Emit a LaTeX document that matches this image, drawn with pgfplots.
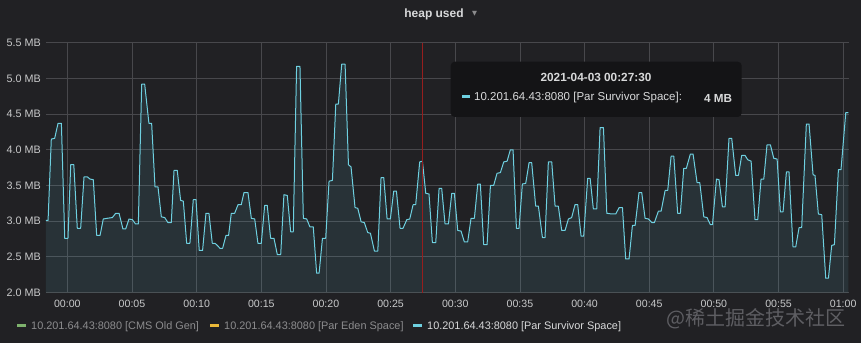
\documentclass[border=0pt]{standalone}
\usepackage{pgfplots}
\usepackage{pgfplotstable}
\pgfplotsset{compat=1.18}
\usepackage{fontspec}
\setmainfont{Liberation Sans}
\newfontfamily\cjk{Noto Sans CJK SC}
\newfontfamily\sym{DejaVu Sans}
\definecolor{bg}{RGB}{33,33,36}
\definecolor{tipbg}{RGB}{20,20,22}
\definecolor{gridc}{RGB}{72,72,76}
\definecolor{linec}{RGB}{110,208,224}
\definecolor{tickc}{RGB}{200,201,202}
\definecolor{titlec}{RGB}{216,217,218}
\definecolor{dimc}{RGB}{140,140,142}
\definecolor{greenc}{RGB}{126,178,109}
\definecolor{yellowc}{RGB}{234,184,57}
\definecolor{redc}{RGB}{150,30,30}
\definecolor{wmc}{RGB}{105,105,110}

\pgfplotstableread{
t v
-1.67 3.01
-1.49 3.01
-1.24 4.15
-0.98 4.16
-0.72 4.37
-0.46 4.37
-0.20 2.76
0.05 2.76
0.26 3.79
0.50 3.79
0.77 2.90
1.03 2.90
1.29 3.62
1.55 3.62
1.75 3.59
2.01 3.58
2.27 2.80
2.53 2.80
2.78 3.03
3.09 3.04
3.48 3.05
3.74 3.11
4.00 3.11
4.30 2.89
4.51 2.89
4.77 3.03
5.03 3.02
5.28 2.96
5.49 2.96
5.75 4.92
5.98 4.92
6.31 4.37
6.52 4.37
6.78 3.48
7.01 3.48
7.27 3.06
7.53 3.05
7.78 2.98
8.04 2.98
8.25 3.71
8.50 3.71
8.76 3.29
8.97 3.28
9.23 2.69
9.48 2.69
9.74 3.30
9.95 3.30
10.20 2.59
10.46 2.59
10.72 3.11
10.95 3.11
11.21 2.69
11.42 2.69
11.65 2.65
11.80 2.62
12.01 2.62
12.27 2.80
12.47 2.80
12.68 3.11
12.94 3.11
13.20 3.23
13.45 3.23
13.66 3.40
13.97 3.40
14.23 3.04
14.49 3.03
14.74 2.69
15.00 2.69
15.26 3.22
15.46 3.22
15.72 2.76
15.98 2.76
16.24 2.53
16.50 2.53
16.75 3.37
17.01 3.36
17.27 2.85
17.47 2.85
17.73 5.17
17.99 5.17
18.25 3.04
18.51 3.03
18.76 2.92
19.02 2.92
19.28 2.27
19.47 2.27
19.73 2.76
19.98 2.76
20.24 3.56
20.50 3.57
20.76 4.64
20.96 4.64
21.22 5.20
21.48 5.20
21.74 3.79
21.94 3.76
22.25 3.19
22.46 3.18
22.72 2.99
22.97 2.98
23.23 2.84
23.44 2.83
23.75 2.58
24.01 2.58
24.26 3.61
24.47 3.61
24.73 3.03
24.98 3.03
25.24 3.42
25.45 3.42
25.73 2.90
25.96 2.90
26.25 3.02
26.48 3.03
26.74 3.23
26.94 3.23
27.25 3.83
27.46 3.84
27.72 3.39
27.97 3.38
28.23 2.70
28.49 2.70
28.75 3.46
28.95 3.46
29.21 2.96
29.47 2.96
29.73 3.39
29.93 3.39
30.19 2.87
30.45 2.86
30.70 2.71
30.96 2.71
31.22 3.04
31.48 3.04
31.74 3.52
31.94 3.52
32.20 2.67
32.46 2.67
32.72 3.50
32.97 3.50
33.23 3.67
33.49 3.68
33.75 3.83
34.01 3.84
34.26 4.00
34.47 4.00
34.73 2.90
34.93 2.90
35.19 3.52
35.45 3.53
35.71 3.82
35.91 3.82
36.22 3.21
36.43 3.21
36.74 2.77
36.94 2.77
37.20 3.83
37.46 3.83
37.72 3.21
37.97 3.21
38.23 2.87
38.49 2.87
38.75 3.03
39.00 3.05
39.26 3.23
39.47 3.23
39.73 2.79
39.93 2.79
40.24 3.60
40.43 3.60
40.68 3.17
40.94 3.17
41.20 4.31
41.46 4.31
41.72 3.11
42.10 3.10
42.41 3.10
42.67 3.19
42.93 3.19
43.18 2.47
43.44 2.47
43.70 2.94
43.91 2.94
44.21 3.40
44.42 3.40
44.68 3.04
44.94 3.03
45.20 2.98
45.40 2.98
45.71 3.14
45.92 3.14
46.23 3.43
46.43 3.43
46.69 3.91
46.90 3.91
47.20 3.11
47.41 3.11
47.67 3.74
47.87 3.74
48.18 3.94
48.39 3.94
48.70 3.54
48.91 3.54
49.22 3.06
49.47 3.05
49.73 2.95
49.89 2.95
50.20 3.59
50.40 3.58
50.66 3.20
50.87 3.20
51.17 4.16
51.38 4.16
51.69 3.64
51.90 3.64
52.15 3.92
52.41 3.92
52.62 3.86
52.88 3.84
53.18 3.02
53.39 3.02
53.65 3.59
53.86 3.59
54.11 4.07
54.37 4.07
54.63 3.88
54.89 3.87
55.14 3.13
55.35 3.13
55.61 3.69
55.81 3.69
56.12 2.64
56.33 2.64
56.59 2.91
56.79 2.91
57.15 4.36
57.36 4.36
57.67 3.65
57.82 3.64
58.08 3.10
58.34 3.09
58.65 2.20
58.86 2.20
59.11 2.66
59.32 2.67
59.63 3.72
59.83 3.72
60.20 4.52
60.40 4.52
}\heapdata

\begin{document}
\begin{tikzpicture}[x=1pt,y=1pt]
\fill[bg] (0,0) rectangle (861,343);
\useasboundingbox (0,0) rectangle (861,343);
\begin{axis}[
  at={(46pt,50.5pt)}, anchor=south west,
  scale only axis, width=803pt, height=249.8pt,
  xmin=-1.65, xmax=60.45, ymin=2, ymax=5.5,
  axis line style={draw=none},
  tick style={draw=none},
  xtick={0,5,...,60},
  xticklabels={00:00,00:05,00:10,00:15,00:20,00:25,00:30,00:35,00:40,00:45,00:50,00:55,01:00},
  ytick={2,2.5,3,3.5,4,4.5,5,5.5},
  yticklabels={2.0 MB,2.5 MB,3.0 MB,3.5 MB,4.0 MB,4.5 MB,5.0 MB,5.5 MB},
  xmajorgrids, ymajorgrids,
  major grid style={draw=gridc, line width=0.8pt},
  xticklabel style={font=\fontsize{10.6}{12}\selectfont, text=tickc, anchor=center, yshift=-11.5pt, inner sep=0pt},
  yticklabel style={font=\fontsize{10.8}{12}\selectfont, text=tickc, anchor=east, xshift=-5pt, inner sep=0pt},
  clip=true,
]
\addplot[draw=none, fill=linec, fill opacity=0.1] table[x=t,y=v] {\heapdata} \closedcycle;
\addplot[color=linec, line width=1pt, line join=round] table[x=t,y=v] {\heapdata};
\addplot[color=redc, line width=1.1pt] coordinates {(27.5,2) (27.5,5.5)};
\end{axis}
% title
\node[anchor=center, text=titlec, font=\fontsize{12}{14}\selectfont\bfseries] at (434,329) {heap used};
\node[anchor=center, text=dimc, font=\fontsize{6.5}{8}\selectfont] at (474.5,329) {\sym ▼};
% tooltip
\fill[tipbg, rounded corners=4pt] (450.7,226) rectangle (741.7,281.3);
\node[anchor=center, text=titlec, font=\fontsize{11.8}{14}\selectfont\bfseries] at (596,266) {2021-04-03 00:27:30};
\node[anchor=west, inner sep=0pt, text=titlec, font=\fontsize{11.5}{14}\selectfont] at (462,245) {\textcolor{linec}{\rule[2.6pt]{8pt}{3pt}}\hspace{4pt}10.201.64.43:8080 [Par Survivor Space]:};
\node[anchor=west, inner sep=0pt, text=titlec, font=\fontsize{11.7}{14}\selectfont\bfseries] at (704,245) {4 MB};
% legend
\node[anchor=west, inner sep=0pt, text=dimc, font=\fontsize{10.9}{12}\selectfont] at (17,16) {\textcolor{greenc}{\rule[2.5pt]{9pt}{3.5pt}}\hspace{5pt}10.201.64.43:8080 [CMS Old Gen]};
\node[anchor=west, inner sep=0pt, text=dimc, font=\fontsize{10.9}{12}\selectfont] at (210,16) {\textcolor{yellowc}{\rule[2.5pt]{9pt}{3.5pt}}\hspace{5pt}10.201.64.43:8080 [Par Eden Space]};
\node[anchor=west, inner sep=0pt, text=titlec, font=\fontsize{10.9}{12}\selectfont] at (413,16) {\textcolor{linec}{\rule[2.5pt]{9pt}{3.5pt}}\hspace{5pt}10.201.64.43:8080 [Par Survivor Space]};
% watermark
\node[anchor=east, inner sep=0pt, text=wmc, font=\fontsize{20}{22}\selectfont, opacity=0.85] at (846,24) {\cjk @稀土掘金技术社区};
\end{tikzpicture}
\end{document}
